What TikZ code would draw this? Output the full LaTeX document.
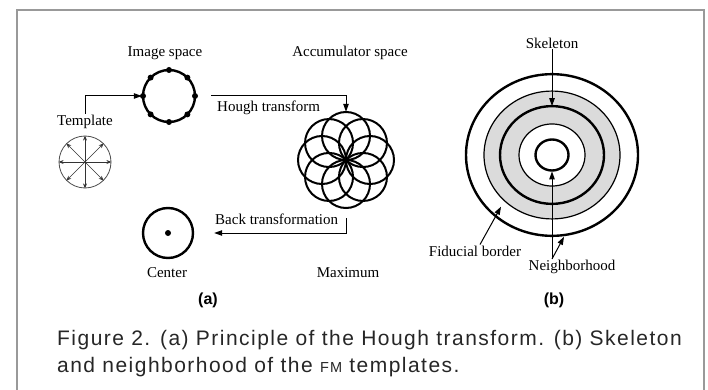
\documentclass[tikz,border=0pt]{standalone}
\usepackage{fontspec}
\setmainfont{Liberation Serif}
\setsansfont{Liberation Sans}
\newfontfamily\capfont[LetterSpace=7]{Liberation Sans}
\usetikzlibrary{arrows.meta}
\tikzset{
    lbl/.style={font=\fontsize{15}{17}\selectfont, inner sep=1pt},
    arr/.style={line width=1pt, -{Triangle[length=8pt,width=5.5pt]}},
    thickring/.style={line width=2.4pt},
    thinring/.style={line width=1.2pt},
    ring/.style={circle, draw, thickring, minimum size=#1, inner sep=0pt},
    sublbl/.style={font=\sffamily\bfseries\fontsize{16}{16}\selectfont},
    caption/.style={font=\capfont\fontsize{21}{27}\selectfont, text=black!85, anchor=base west, inner sep=0pt}
}
\begin{document}
\begin{tikzpicture}[x=1pt,y=-1pt]
    \useasboundingbox (0,0) rectangle (708,390);
    % frame
    \draw[gray!80, line width=1.2pt] (17,390) |- (704,10) -- (704,390);
    % (a) image space
    \node[lbl] (imglbl) at (165,53) {Image space};
    \node[ring=52pt] (img) at (169,96) {};
    \foreach \a in {0,45,...,315}
        \fill (img.center) ++(\a:26) circle (3);
    % template
    \node[lbl] (tpl) at (85,122) {Template};
    \node[circle, draw, gray!60!black, line width=.8pt, minimum size=52pt, inner sep=0pt] (tplc) at (85,162) {};
    \foreach \a in {0,45,...,315}
        \draw[gray!40!black, line width=.7pt, -{Stealth[length=5pt,width=4pt]}] (tplc.center) -- (tplc.\a);
    \draw[arr] (tpl.north) |- (img.west);
    % accumulator space
    \node[lbl] (acclbl) at (350,53) {Accumulator space};
    \node[circle, minimum size=96pt, inner sep=0pt] (acc) at (346,160) {};
    \foreach \a in {0,45,...,315}
        \draw[line width=2pt] (acc.center) ++(\a:24) circle (24);
    \draw[arr] ([xshift=15pt]img.east) -| (acc.north);
    \node[lbl, anchor=west] (hough) at (216,108) {Hough transform};
    % back transformation
    \node[ring=50pt] (ctr) at (168,233) {};
    \fill (ctr.center) circle (3);
    \draw[arr] ([yshift=-10pt]acc.south) |- ([xshift=20pt]ctr.east);
    \node[lbl, anchor=west] (back) at (214,219) {Back transformation};
    \node[lbl] (ctrlbl) at (167,273) {Center};
    \node[lbl] (maxlbl) at (348,273) {Maximum};
    \node[sublbl] (pa) at (208,300) {(a)};
    % (b) rings
    \scope[shift={(552,155)}, yscale=.94]
    \fill[gray!28, even odd rule] (0,0) circle (68) (0,0) circle (33);
    \draw[thinring] (0,0) circle (68) (0,0) circle (33);
    \draw[thickring] (0,0) circle (86) (0,0) circle (52) (0,0) circle (16.5);
    \coordinate (skel) at (0,-52);
    \coordinate (core) at (0,17.5);
    \coordinate (fid) at (-51,55);
    \coordinate (rim) at (12,87);
    \endscope
    \node[lbl] (skellbl) at (552,43) {Skeleton};
    \draw[arr] (skellbl.south) -- (skel);
    \node[lbl] (fidlbl) at (475,251) {Fiducial border};
    \draw[arr] ([xshift=5pt]fidlbl.north) -- (fid);
    \node[lbl] (nbhlbl) at (572,267) {Neighborhood};
    \coordinate (nbhfoot) at ([xshift=-20pt]nbhlbl.north);
    \draw[arr] (nbhfoot) -- (core);
    \draw[arr] (nbhfoot) -- (rim);
    \node[sublbl] (pb) at (554,300) {(b)};
    % caption
    \node[caption] (cap1) at (57,345) {Figure 2. (a) Principle of the Hough transform. (b) Skeleton};
    \node[caption] (cap2) at (57,372) {and neighborhood of the {\fontsize{14.5}{14.5}\selectfont FM} templates.};
\end{tikzpicture}
\end{document}
